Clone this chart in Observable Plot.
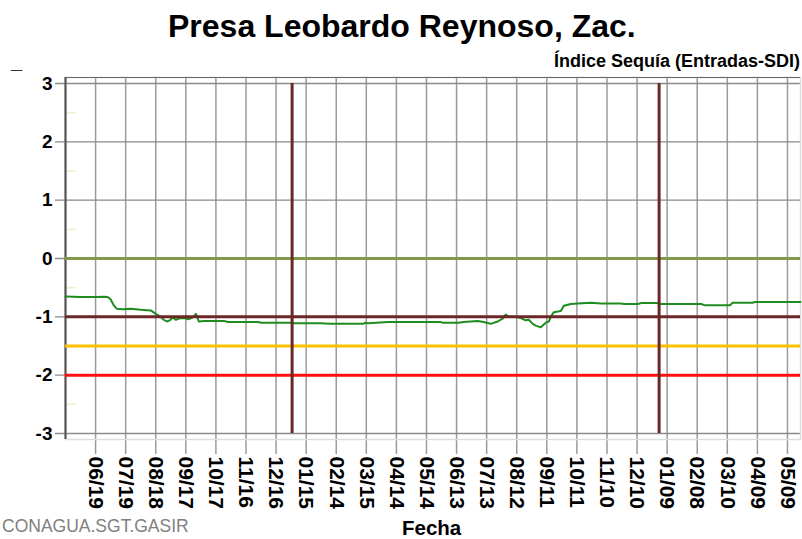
<!DOCTYPE html>
<html>
<head>
<meta charset="utf-8">
<script src="https://cdn.jsdelivr.net/npm/d3@7"></script>
<script src="https://cdn.jsdelivr.net/npm/@observablehq/plot@0.6"></script>
<style>
  html, body { margin: 0; padding: 0; background: #fff; }
  #wrap { position: relative; width: 802px; height: 539px; overflow: hidden; font-family: "Liberation Sans", Arial, sans-serif; }
  .lbl { position: absolute; line-height: 1; white-space: nowrap; }
</style>
</head>
<body>
<div id="wrap">
  <div class="lbl" style="left:168px; top:10px; font-size:32px; font-weight:bold; color:#000;">Presa Leobardo Reynoso, Zac.</div>
  <div class="lbl" style="right:2px; top:52px; font-size:18px; font-weight:bold; color:#000;">Índice Sequía (Entradas-SDI)</div>
  <div class="lbl" style="left:402px; top:518px; font-size:20.5px; font-weight:bold; color:#000;">Fecha</div>
  <div class="lbl" style="left:2px; top:518px; font-size:17.5px; color:#808080;">CONAGUA.SGT.GASIR</div>
  <div class="lbl" style="left:11px; top:51px; font-size:20px; font-weight:bold; color:#333;">_</div>
</div>
<script>
// ---- data ----
const seriesDates = [
  "2015-05-20","2015-06-04","2015-06-19","2015-06-27","2015-07-01","2015-07-04","2015-07-07","2015-07-10",
  "2015-07-16","2015-07-24","2015-08-03","2015-08-13","2015-08-18","2015-08-23","2015-08-26","2015-08-29",
  "2015-09-01","2015-09-04","2015-09-07","2015-09-10","2015-09-15","2015-09-20","2015-09-25","2015-09-27",
  "2015-09-30","2015-10-05","2015-10-25","2015-10-29","2015-11-28","2015-12-01","2015-12-31","2016-01-03",
  "2016-01-29","2016-02-08","2016-03-12","2016-03-14","2016-03-17","2016-04-06","2016-05-28","2016-05-30",
  "2016-06-15","2016-06-20","2016-06-27","2016-07-04","2016-07-10","2016-07-17","2016-07-24","2016-07-29",
  "2016-08-01","2016-08-04","2016-08-11","2016-08-16","2016-08-21","2016-08-24","2016-08-28","2016-08-31",
  "2016-09-05","2016-09-10","2016-09-13","2016-09-15","2016-09-18","2016-09-22","2016-09-25","2016-09-28",
  "2016-10-05","2016-10-12","2016-10-25","2016-11-04","2016-11-24","2016-11-27","2016-12-11","2016-12-14",
  "2016-12-30","2017-01-03","2017-02-12","2017-02-15","2017-03-13","2017-03-15","2017-04-04","2017-04-07",
  "2017-05-22"
];
const seriesValues = [
  -0.65,-0.66,-0.66,-0.655,-0.66,-0.70,-0.80,-0.86,
  -0.87,-0.86,-0.88,-0.89,-0.95,-1.00,-1.05,-1.08,
  -1.06,-1.01,-1.05,-1.03,-1.02,-1.04,-1.00,-0.95,
  -1.08,-1.07,-1.07,-1.09,-1.09,-1.10,-1.10,-1.11,
  -1.11,-1.12,-1.12,-1.10,-1.11,-1.09,-1.09,-1.10,
  -1.10,-1.09,-1.08,-1.07,-1.09,-1.12,-1.08,-1.03,
  -0.96,-1.00,-1.00,-1.02,-1.06,-1.05,-1.12,-1.15,
  -1.18,-1.10,-1.08,-1.00,-0.92,-0.91,-0.90,-0.81,
  -0.78,-0.77,-0.76,-0.77,-0.77,-0.78,-0.78,-0.765,
  -0.765,-0.78,-0.78,-0.80,-0.80,-0.76,-0.76,-0.745,
  -0.745
];
const xTickDates = [
  "2015-06-19","2015-07-19","2015-08-18","2015-09-17","2015-10-17","2015-11-16","2015-12-16",
  "2016-01-15","2016-02-14","2016-03-15","2016-04-14","2016-05-14","2016-06-13","2016-07-13",
  "2016-08-12","2016-09-11","2016-10-11","2016-11-10","2016-12-10","2017-01-09","2017-02-08",
  "2017-03-10","2017-04-09","2017-05-09"
];
const xTickLabels = [
  "06/19","07/19","08/18","09/17","10/17","11/16","12/16","01/15","02/14","03/15","04/14","05/14",
  "06/13","07/13","08/12","09/11","10/11","11/10","12/10","01/09","02/08","03/10","04/09","05/09"
];
const yTicks = [3, 2, 1, 0, -1, -2, -3];
const yMinor = [2.5, 1.5, 0.5, -0.5, -2.5];
const refLevels = [0, -1, -1.5, -2];
const refColors = ["#7f9b48", "#6b2626", "#ffc000", "#ff1010"];
const yearMarks = ["2016-01-01", "2017-01-01"];
const xDomain = ["2015-05-20", "2017-05-22"];
const yDomain = [-3.103, 3.103];

// ---- build ----
const parse = s => new Date(s + "T00:00:00Z");
const series = seriesDates.map((d, i) => ({date: parse(d), value: seriesValues[i]}));
const ticks = xTickDates.map((d, i) => ({date: parse(d), label: xTickLabels[i]}));
const refs = refLevels.map((v, i) => ({y: v, color: refColors[i]}));
const years = yearMarks.map(parse);
const x0 = parse(xDomain[0]);

const chart = Plot.plot({
  width: 802,
  height: 539,
  marginTop: 77,
  marginBottom: 100,
  marginLeft: 65,
  marginRight: 2,
  x: {type: "utc", domain: xDomain.map(parse), axis: null},
  y: {domain: yDomain, axis: null},
  color: {type: "identity"},
  style: {fontFamily: "Liberation Sans, Arial, sans-serif", background: "transparent", overflow: "visible"},
  marks: [
    // vertical grid + x tick marks
    Plot.ruleX(ticks, {x: "date", stroke: "#9a9a9a", strokeWidth: 1.5, insetBottom: -15}),
    // horizontal grid + y tick marks
    Plot.ruleY(yTicks, {y: d => d, stroke: "#8a8a8a", strokeWidth: 1.3, insetLeft: -10}),
    // minor pale marks
    Plot.ruleY(yMinor, {y: d => d, stroke: "#eeeecc", strokeWidth: 1.5, insetLeft: 1, insetRight: 724}),
    // frame
    Plot.frame({stroke: "#dddddd", strokeWidth: 1.5}),
    Plot.ruleY([yDomain[1]], {stroke: "#666", strokeWidth: 1.2}),
    Plot.ruleX([x0], {stroke: "#555", strokeWidth: 2.2}),
    // data
    Plot.line(series, {x: "date", y: "value", stroke: "#1e8c1e", strokeWidth: 2}),
    // reference levels
    Plot.ruleY(refs, {y: "y", stroke: "color", strokeWidth: 3}),
    // year separators
    Plot.ruleX(years, {x: d => d, y1: -3, y2: 3, stroke: "#6b2626", strokeWidth: 3}),
    // y labels
    Plot.text(yTicks, {y: d => d, frameAnchor: "left", text: d => String(d), textAnchor: "end", dx: -13,
      fontSize: 19, fontWeight: "bold", fill: "#000"}),
    // x labels
    Plot.text(ticks, {x: "date", frameAnchor: "bottom", text: "label", rotate: 90, textAnchor: "start",
      lineAnchor: "middle", dy: 17, fontSize: 21, fontWeight: "bold", fill: "#000"})
  ]
});
chart.style.position = "absolute";
chart.style.left = "0px";
chart.style.top = "0px";
document.getElementById("wrap").appendChild(chart);
</script>
</body>
</html>
